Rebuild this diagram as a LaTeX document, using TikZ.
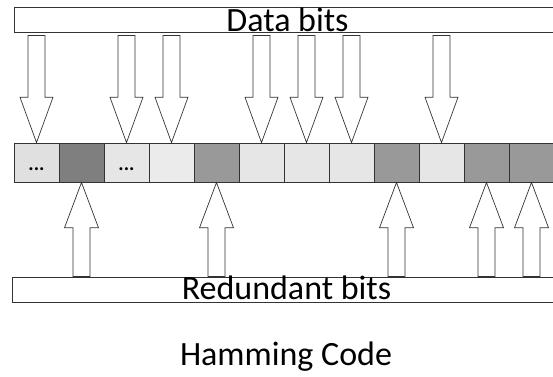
\documentclass[tikz,border=0pt]{standalone}
\usepackage{fontspec}
\setmainfont{Carlito}
\usetikzlibrary{calc}
\definecolor{cellA}{HTML}{E0E0E0}
\definecolor{cellB}{HTML}{7F7F7F}
\definecolor{cellC}{HTML}{E6E6E6}
\definecolor{cellD}{HTML}{EBEBEB}
\definecolor{cellE}{HTML}{999999}
\definecolor{edge}{HTML}{333333}
\begin{document}
\begin{tikzpicture}[x=1pt,y=-1pt,
  bar/.style={draw=edge,line width=0.9pt,fill=white,minimum width=548pt,minimum height=25pt,anchor=north west,inner sep=0pt},
  cell/.style={draw=edge,line width=0.9pt,minimum width=45pt,minimum height=39pt,inner sep=0pt},
  blk/.style={draw=edge,line width=0.7pt,fill=white,line join=miter},
  big/.style={font=\fontsize{34}{40}\selectfont,inner sep=0pt,anchor=base},
  dots/.style={font=\bfseries\fontsize{20}{24}\selectfont,inner sep=0pt,anchor=base}]
\useasboundingbox (0,0) rectangle (553,376);
\node[bar] (data) at (14,7.3) {};
\node[bar] (red) at (12.3,276.7) {};
\foreach \i/\c in {1/cellA,2/cellB,3/cellC,4/cellD,5/cellE,6/cellC,7/cellC,8/cellC,9/cellE,10/cellC,11/cellE,12/cellE}
  \node[cell,fill=\c] (c\i) at ({14+45*(\i-1)+22.5},162.5) {};
\node[dots] (d1) at ($(c1.center)+(0,8)$) {...};
\node[dots] (d3) at ($(c3.center)+(0,8)$) {...};
\foreach \i in {1,3,4,6,7,8,10}
  \draw[blk] ($(c\i.north)+(-8.5,-107)$) -- ++(17,0) -- ++(0,61.7) -- ++(8,0)
     -- (c\i.north) -- ($(c\i.north)+(-16.5,-45.3)$) -- ++(8,0) -- cycle;
\foreach \i in {2,5,9,11,12}
  \draw[blk] ($(c\i.south)+(-8.5,94)$) -- ++(17,0) -- ++(0,-48.7) -- ++(8.5,0)
     -- (c\i.south) -- ($(c\i.south)+(-17,45.3)$) -- ++(8.5,0) -- cycle;
\node[big] (datatxt) at (287.5,31) {Data bits};
\node[big] (redtxt) at (286.5,299.3) {Redundant bits};
\node[big] (title) at (286,365) {Hamming Code};
\end{tikzpicture}
\end{document}
